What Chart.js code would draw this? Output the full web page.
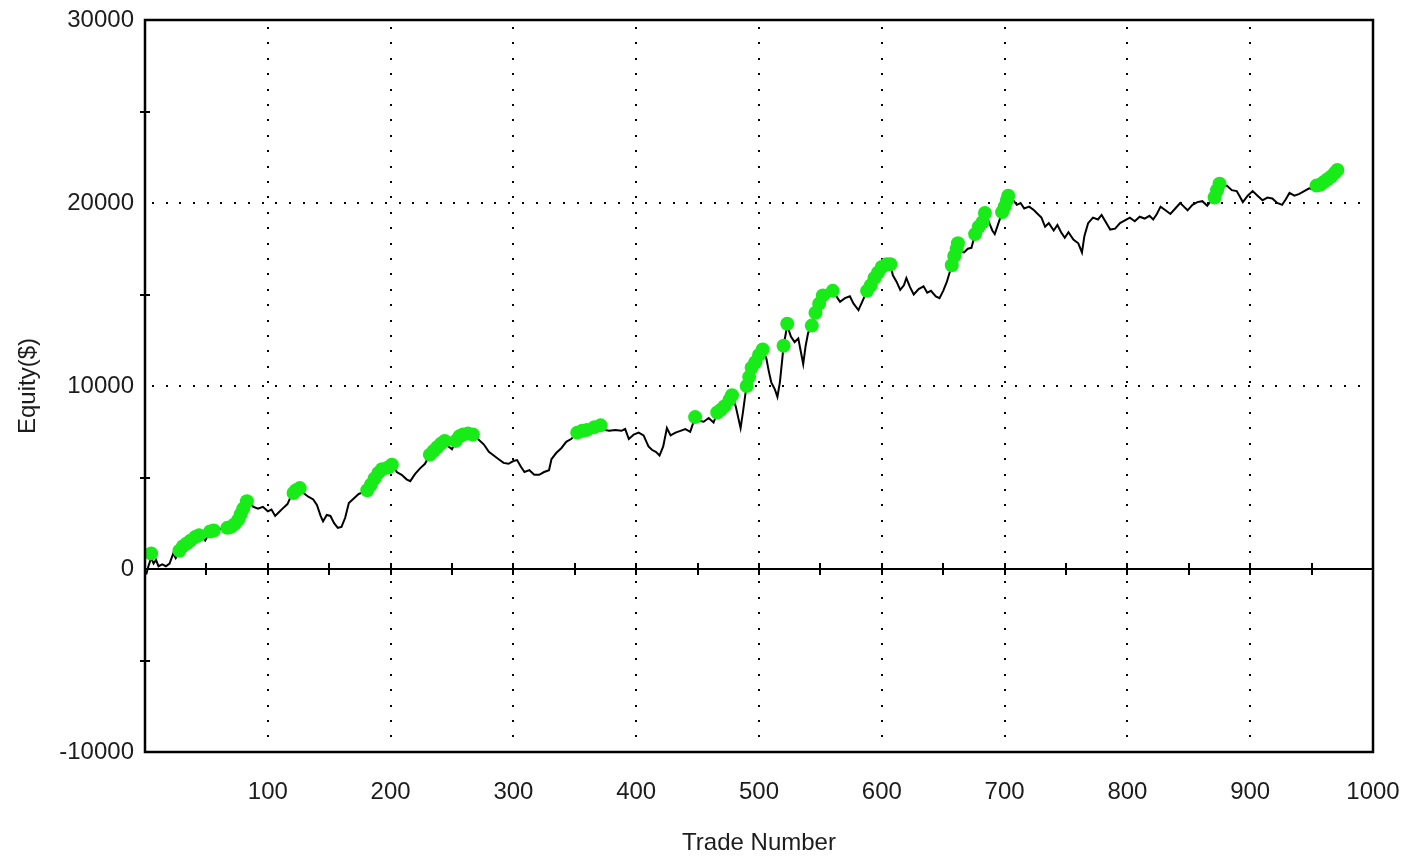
<!DOCTYPE html>
<html>
<head>
<meta charset="utf-8">
<script src="https://cdn.jsdelivr.net/npm/chart.js@4.4.1/dist/chart.umd.min.js"></script>
<style>
    html, body { margin: 0; padding: 0; background: #ffffff; }
    #caixa { width: 1405px; height: 857px; position: relative; }
</style>
</head>
<body>
<div id="caixa"><canvas id="equityChart"></canvas></div>
<script>
// dados
const tradeNo = [
    1, 3, 5, 7, 9, 11, 14, 17, 20, 23, 25, 28, 32, 36, 40, 44, 47, 49, 51, 54,
    57, 60, 64, 68, 72, 76, 79, 82, 85, 88, 92, 96, 100, 103, 106, 109, 112, 116, 119, 122,
    126, 129, 133, 137, 140, 143, 145, 148, 151, 154, 157, 160, 163, 166, 170, 174, 178, 181, 185, 189,
    193, 196, 199, 202, 205, 209, 213, 216, 220, 224, 228, 232, 236, 240, 244, 247, 250, 253, 257, 261,
    265, 268, 272, 276, 280, 284, 288, 292, 296, 300, 303, 306, 309, 313, 317, 321, 325, 329, 331, 335,
    339, 343, 347, 352, 356, 360, 365, 370, 374, 378, 383, 388, 391, 394, 398, 402, 406, 410, 413, 416,
    419, 422, 425, 428, 432, 436, 440, 444, 448, 451, 455, 459, 463, 466, 469, 472, 475, 478, 481, 483,
    485, 487, 489, 491, 494, 497, 500, 503, 506, 508, 510, 513, 515, 517, 519, 520, 523, 526, 529, 532,
    534, 536, 538, 540, 543, 546, 549, 552, 556, 560, 563, 566, 570, 574, 577, 581, 584, 588, 592, 596,
    600, 604, 607, 609, 612, 615, 618, 620, 623, 626, 630, 634, 637, 640, 644, 647, 650, 653, 657, 660,
    662, 664, 667, 670, 673, 676, 680, 684, 687, 690, 692, 695, 698, 701, 704, 707, 710, 713, 716, 720,
    724, 727, 730, 733, 736, 740, 743, 746, 749, 752, 756, 760, 763, 765, 768, 772, 776, 779, 782, 786,
    790, 794, 798, 802, 806, 810, 814, 818, 821, 824, 827, 831, 835, 839, 843, 846, 849, 853, 857, 861,
    865, 869, 872, 875, 878, 881, 885, 889, 892, 894, 898, 902, 906, 910, 914, 918, 922, 926, 929, 932,
    936, 940, 944, 948, 951, 954, 958, 962, 966, 969, 971
];
const equity = [
    -300, 200, 600, 300, 500, 150, 250, 150, 300, 850, 600, 1000, 1350, 1500, 1700, 1850, 1700, 1550, 1800, 2050,
    1950, 2150, 2250, 2300, 2400, 2700, 3100, 3600, 3750, 3400, 3300, 3400, 3150, 3250, 2900, 3100, 3300, 3550, 4000, 4250,
    4400, 4150, 3950, 3800, 3500, 2900, 2600, 2950, 2900, 2500, 2250, 2300, 2800, 3600, 3850, 4100, 4200, 4300, 4700, 5100,
    5400, 5250, 5550, 5700, 5300, 5150, 4900, 4800, 5200, 5500, 5750, 6250, 6600, 6800, 7000, 6700, 6550, 6950, 7200, 7350,
    7350, 7250, 7050, 6800, 6400, 6200, 6000, 5800, 5750, 5900, 5950, 5600, 5300, 5400, 5150, 5150, 5300, 5400, 6000, 6350,
    6600, 6950, 7100, 7450, 7550, 7600, 7750, 7850, 7600, 7550, 7600, 7550, 7650, 7100, 7350, 7450, 7300, 6700, 6500, 6400,
    6200, 6700, 7700, 7300, 7450, 7550, 7650, 7500, 8300, 8100, 8050, 8250, 8000, 8550, 8700, 8900, 9150, 9400, 8900, 8300,
    7700, 8600, 9600, 10300, 10900, 11300, 11700, 12000, 11500, 10800, 10200, 9800, 9400, 10200, 11500, 12200, 13300, 12700, 12400, 12600,
    11900, 11200, 12200, 12900, 13300, 14000, 14500, 14900, 14800, 15200, 14900, 14600, 14800, 14900, 14500, 14150, 14600, 15200, 15600, 16000,
    16400, 16650, 16650, 16050, 15700, 15250, 15500, 15900, 15400, 15000, 15300, 15450, 15100, 15200, 14900, 14800, 15200, 15700, 16600, 17300,
    17750, 17350, 17300, 17500, 17550, 18300, 18800, 19400, 19000, 18500, 18300, 18900, 19500, 19900, 20400, 20150, 19900, 20000, 19700, 19800,
    19600, 19400, 19200, 18700, 18900, 18500, 18800, 18400, 18100, 18400, 18000, 17800, 17300, 18200, 18900, 19200, 19100, 19350, 19000, 18550,
    18600, 18900, 19050, 19200, 19000, 19250, 19150, 19300, 19100, 19400, 19800, 19600, 19400, 19700, 20000, 19800, 19600, 19900, 20050, 20100,
    19850, 20200, 20700, 21050, 20900, 20950, 20700, 20650, 20300, 20050, 20400, 20650, 20400, 20150, 20300, 20250, 20000, 19900, 20200, 20550,
    20400, 20500, 20650, 20800, 20750, 20950, 21050, 21200, 21450, 21650, 21800
];

// pontos verdes
const highTrades = [
    5, 28, 31, 34, 37, 41, 44, 53, 56, 67, 70, 73, 76, 78, 80, 83, 121, 123, 126, 181,
    184, 187, 190, 193, 198, 201, 232, 235, 238, 241, 244, 253, 256, 259, 263, 267, 352, 356, 360, 366,
    371, 448, 466, 469, 472, 476, 478, 490, 492, 494, 497, 500, 503, 520, 523, 543, 546, 549, 552, 560,
    588, 591, 594, 597, 600, 604, 607, 657, 659, 661, 662, 676, 679, 682, 684, 698, 700, 702, 703, 871,
    873, 875, 954, 957, 960, 963, 966, 969, 971
];
const highEquity = [
    850, 1000, 1250, 1400, 1550, 1750, 1850, 2050, 2100, 2250, 2300, 2450, 2700, 3000, 3300, 3700, 4150, 4300, 4420, 4300,
    4600, 4950, 5250, 5450, 5550, 5700, 6250, 6450, 6650, 6850, 7000, 7000, 7250, 7350, 7400, 7350, 7450, 7550, 7600, 7750,
    7850, 8300, 8550, 8700, 8900, 9250, 9500, 10000, 10500, 11000, 11300, 11700, 12000, 12200, 13400, 13300, 14000, 14500, 14950, 15200,
    15200, 15500, 15900, 16200, 16500, 16650, 16650, 16600, 17100, 17500, 17800, 18300, 18700, 18950, 19450, 19500, 19800, 20150, 20400, 20300,
    20700, 21050, 20950, 21000, 21150, 21300, 21450, 21650, 21800
];

// eixos
const xTickValues = [0, 100, 200, 300, 400, 500, 600, 700, 800, 900, 1000];
const yTickValues = [-10000, 0, 10000, 20000, 30000];
const xGridValues = [100, 200, 300, 400, 500, 600, 700, 800, 900];
const yGridValues = [10000, 20000];
const xMinorTicks = [50, 100, 150, 200, 250, 300, 350, 400, 450, 500, 550, 600, 650, 700, 750, 800, 850, 900, 950];
const yMinorTicks = [-5000, 5000, 15000, 25000];

const cores = {
    preto: '#000000',
    texto: '#1c1c1c',
    verde: '#18ec18'
};

const fonteEixo = {
    family: "'Liberation Sans', Arial, sans-serif",
    size: 24,
    lineHeight: 1
};

// grade pontilhada, linha do zero e marcas
const gradePlugin = {
    id: 'gradePlugin',
    beforeDatasetsDraw(chart) {
        const { ctx, chartArea: a, scales: { x, y } } = chart;
        ctx.save();
        ctx.fillStyle = cores.preto;

        xGridValues.forEach(v => {
            const px = Math.round(x.getPixelForValue(v));
            for (let py = a.top + 8; py < a.bottom - 2; py += 15.4) {
                ctx.fillRect(px - 1, Math.round(py) - 1, 2, 2);
            }
        });
        yGridValues.forEach(v => {
            const py = Math.round(y.getPixelForValue(v));
            for (let px = a.left + 8; px < a.right - 2; px += 13.7) {
                ctx.fillRect(Math.round(px) - 1, py - 1, 2, 2);
            }
        });

        const y0 = Math.round(y.getPixelForValue(0));
        ctx.fillRect(a.left, y0 - 1, a.right - a.left, 2);

        xMinorTicks.forEach(v => {
            const px = Math.round(x.getPixelForValue(v));
            ctx.fillRect(px - 1, y0 - 6, 2, 12);
        });
        yMinorTicks.forEach(v => {
            const py = Math.round(y.getPixelForValue(v));
            ctx.fillRect(a.left - 5, py - 1, 10, 2);
        });
        ctx.restore();
    },
    afterDatasetsDraw(chart) {
        const { ctx, chartArea: a } = chart;
        ctx.save();
        ctx.strokeStyle = cores.preto;
        ctx.lineWidth = 2.5;
        ctx.strokeRect(a.left, a.top, a.right - a.left, a.bottom - a.top);
        ctx.restore();
    }
};

const ctx = document.getElementById('equityChart');

new Chart(ctx, {
    type: 'line',
    data: {
        datasets: [
            {
                data: highTrades.map((t, i) => ({ x: t, y: highEquity[i] })),
                showLine: false,
                pointRadius: 7,
                pointBackgroundColor: cores.verde,
                pointBorderWidth: 0,
                order: 0
            },
            {
                data: tradeNo.map((t, i) => ({ x: t, y: equity[i] })),
                borderColor: cores.preto,
                borderWidth: 2,
                pointRadius: 0,
                tension: 0,
                fill: false,
                order: 1
            }
        ]
    },
    options: {
        responsive: true,
        maintainAspectRatio: false,
        animation: false,
        layout: {
            padding: { top: 20, right: 32, left: 0, bottom: 0 }
        },
        plugins: {
            legend: { display: false },
            tooltip: { enabled: false }
        },
        scales: {
            x: {
                type: 'linear',
                min: 0,
                max: 1000,
                grid: { display: false, drawTicks: false },
                border: { display: false },
                afterBuildTicks: s => { s.ticks = xTickValues.map(v => ({ value: v })); },
                afterFit: s => {
                    s.height = 105;
                    s.paddingLeft = 0;
                    s.paddingRight = 0;
                },
                ticks: {
                    color: cores.texto,
                    font: fonteEixo,
                    padding: 28,
                    maxRotation: 0,
                    autoSkip: false,
                    callback: v => (v === 0 ? '' : String(v))
                },
                title: {
                    display: true,
                    text: 'Trade Number',
                    color: cores.texto,
                    font: fonteEixo,
                    padding: { top: 0, bottom: 2 }
                }
            },
            y: {
                type: 'linear',
                min: -10000,
                max: 30000,
                grid: { display: false, drawTicks: false },
                border: { display: false },
                afterBuildTicks: s => { s.ticks = yTickValues.map(v => ({ value: v })); },
                afterFit: s => {
                    s.width = 145;
                    s.paddingTop = 0;
                    s.paddingBottom = 0;
                },
                ticks: {
                    color: cores.texto,
                    font: fonteEixo,
                    padding: 11,
                    callback: v => String(v)
                },
                title: {
                    display: true,
                    text: 'Equity($)',
                    color: cores.texto,
                    font: fonteEixo,
                    padding: { top: 16, bottom: 0 }
                }
            }
        }
    },
    plugins: [gradePlugin]
});
</script>
</body>
</html>
